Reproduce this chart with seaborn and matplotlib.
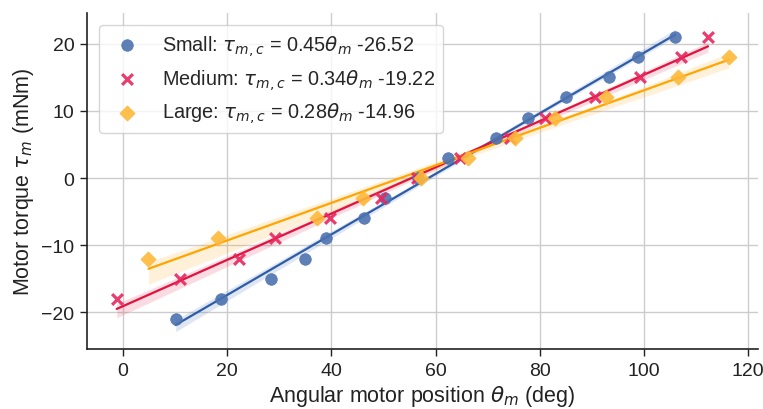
import numpy as np
import pandas as pd
import matplotlib
matplotlib.use("Agg")
import matplotlib.pyplot as plt
import seaborn as sns

# ---- data ----
small_theta = [10.1, 18.9, 28.5, 34.9, 38.9, 46.3, 50.3, 56.6, 62.4, 71.7, 77.7, 85.1, 93.3, 98.9, 106.0]
small_tau = [-21, -18, -15, -12, -9, -6, -3, 0, 3, 6, 9, 12, 15, 18, 21]

medium_theta = [-1.2, 10.9, 22.3, 29.2, 39.7, 49.6, 56.4, 64.7, 74.3, 81.1, 90.6, 99.2, 107.2, 112.3]
medium_tau = [-18, -15, -12, -9, -6, -3, 0, 3, 6, 9, 12, 15, 18, 21]

large_theta = [4.9, 18.3, 37.2, 46.1, 57.3, 66.3, 75.2, 82.9, 92.8, 106.6, 116.3]
large_tau = [-12, -9, -6, -3, 0, 3, 6, 9, 12, 15, 18]

labels = [r"Small: $\tau_{m,c}$ = 0.45$\theta_m$ -26.52",
          r"Medium: $\tau_{m,c}$ = 0.34$\theta_m$ -19.22",
          r"Large: $\tau_{m,c}$ = 0.28$\theta_m$ -14.96"]

sns.set_theme(style="whitegrid")
plt.rcParams["font.family"] = ["Liberation Sans", "DejaVu Sans"]
plt.rcParams["mathtext.fontset"] = "dejavusans"

fig = plt.figure(figsize=(7.63, 4.10), dpi=100)
ax = fig.add_axes([0.114, 0.146, 0.8795, 0.820])

series = [
    (small_theta, small_tau, "o", "#4C72B0", "#2D5DA8", labels[0], 70),
    (medium_theta, medium_tau, "x", "#E8275E", "#E2123F", labels[1], 60),
    (large_theta, large_tau, "D", "#FDB93A", "#FFA500", labels[2], 60),
]

for th, ta, mk, mc, lc, lab, sz in series:
    df = pd.DataFrame({"theta": th, "tau": ta})
    sns.regplot(data=df, x="theta", y="tau", ax=ax, scatter=False,
                color=lc, line_kws={"linewidth": 1.6}, ci=95, seed=0)
    ax.collections[-1].set_alpha(0.15)
    kw = dict(linewidths=2.3) if mk == "x" else dict(edgecolor=mc, linewidth=0.5)
    sns.scatterplot(data=df, x="theta", y="tau", ax=ax, marker=mk, color=mc,
                    s=sz, alpha=0.9, label=lab, zorder=3, **kw)

ax.set_xlim(-6.9, 121.9)
ax.set_ylim(-25.5, 24.6)
ax.set_xticks([0, 20, 40, 60, 80, 100, 120])
ax.set_yticks([-20, -10, 0, 10, 20])
ax.tick_params(axis="both", labelsize=14, colors="#222222", length=5, width=1,
               bottom=True, left=True, direction="out", pad=4)
ax.set_xlabel(r"Angular motor position $\theta_m$ (deg)", fontsize=15.5, color="#222222",
              labelpad=3)
ax.set_ylabel(r"Motor torque $\tau_m$ (mNm)", fontsize=15.5, color="#222222", labelpad=4)
ax.grid(True, color="#cccccc", linewidth=1)
for s in ["top", "right"]:
    ax.spines[s].set_visible(False)
for s in ["left", "bottom"]:
    ax.spines[s].set_color("#222222")
    ax.spines[s].set_linewidth(1.2)

leg = ax.legend(loc="upper left", fontsize=14.3, frameon=True, borderaxespad=0.6,
                handletextpad=0.8, labelspacing=0.45)
leg.get_frame().set_edgecolor("#cccccc")

fig.savefig("out.png", dpi=100)
